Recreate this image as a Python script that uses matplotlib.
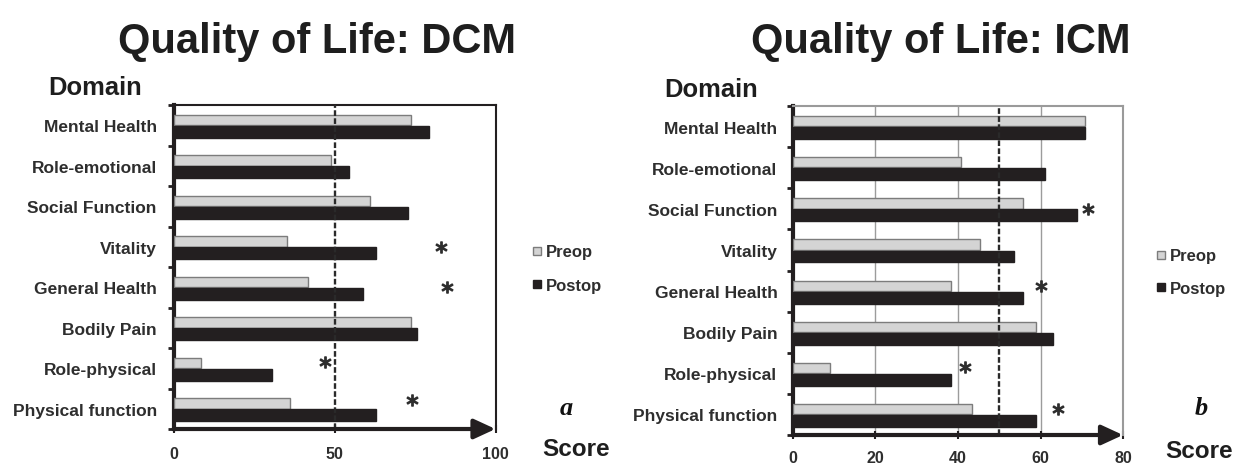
import numpy as np
import matplotlib
matplotlib.use("Agg")
import matplotlib.pyplot as plt
from matplotlib.patches import Rectangle
from matplotlib.ticker import FixedLocator

# SF-36 domains, top to bottom
domains = ["Mental Health", "Role-emotional", "Social Function", "Vitality",
           "General Health", "Bodily Pain", "Role-physical", "Physical function"]

# Mean domain scores, DCM group
dcm_preop = [73.7, 48.8, 61.0, 35.3, 41.8, 73.7, 8.4, 36.3]
dcm_postop = [79.2, 54.6, 72.8, 62.8, 59.0, 75.6, 30.7, 62.8]

# Mean domain scores, ICM group
icm_preop = [70.7, 40.8, 55.7, 45.3, 38.3, 58.8, 9.0, 43.5]
icm_postop = [70.7, 61.0, 68.8, 53.6, 55.7, 63.1, 38.3, 59.0]

# Significance markers: domain -> score position of the asterisk
dcm_stars = {"Vitality": 83, "General Health": 85,
             "Role-physical": 47, "Physical function": 74}
icm_stars = {"Social Function": 71.4, "General Health": 60,
             "Role-physical": 41.7, "Physical function": 64.3}

dcm_ticks = [0, 50, 100]
icm_ticks = [0, 20, 40, 60, 80]
series_labels = ["Preop", "Postop"]

W, H = 1237, 464
plt.rcParams["font.family"] = ["Liberation Sans", "DejaVu Sans"]
fig = plt.figure(figsize=(W / 100, H / 100), dpi=100)

INK = "#231f20"
TXT = "#2e2e2e"
PRE_FACE = "#d4d4d4"
PRE_EDGE = "#7c7c7c"


def fx(x):
    return x / W


def fy(y):
    return 1 - y / H


def panel(rect, pre, post, stars, star_dy, ticks, frame_color, grid,
          ylab_pad, xlab_pad):
    ax = fig.add_axes(rect)
    y = np.arange(len(domains))
    ax.barh(y - 0.13, pre, height=0.25, color=PRE_FACE, edgecolor=PRE_EDGE,
            linewidth=1.0, zorder=3)
    ax.barh(y + 0.16, post, height=0.29, color=INK, edgecolor=INK,
            linewidth=1.0, zorder=3)
    ax.set_xlim(ticks[0], ticks[-1])
    ax.set_ylim(len(domains) - 0.5, -0.5)

    for g in grid:
        ax.axvline(g, color="#9c9c9c", lw=1.0, zorder=1)
    ax.axvline(50, color="#2a2a2a", lw=1.7, dashes=(2.4, 1.0), zorder=4)

    # frame
    ax.spines["left"].set_linewidth(3)
    ax.spines["left"].set_color(INK)
    ax.spines["bottom"].set_visible(False)
    for side in ("top", "right"):
        ax.spines[side].set_linewidth(1.5)
        ax.spines[side].set_color(frame_color)

    # x axis drawn as an arrow
    ax.annotate("", xy=(1.0, 0.0), xytext=(0.0, 0.0),
                xycoords="axes fraction", textcoords="axes fraction",
                arrowprops=dict(arrowstyle="-|>,head_length=0.65,head_width=0.3",
                                mutation_scale=20, lw=3, color=INK,
                                shrinkA=0, shrinkB=0),
                annotation_clip=False, zorder=6)

    ax.set_yticks(y)
    ax.set_yticklabels(domains, fontsize=12.5, fontweight="bold", color=TXT)
    ax.tick_params(axis="y", which="major", length=0, pad=ylab_pad)
    ax.yaxis.set_minor_locator(FixedLocator(np.arange(-0.5, len(domains))))
    ax.tick_params(axis="y", which="minor", length=4, width=2, color=INK,
                   direction="out")

    ax.set_xticks(ticks)
    ax.set_xticklabels([str(t) for t in ticks], fontsize=11.5,
                       fontweight="bold", color=TXT)
    ax.tick_params(axis="x", direction="inout", length=6, width=1.5,
                   color=INK, pad=xlab_pad)

    for (name, xv), dy in zip(stars.items(), star_dy):
        i = domains.index(name)
        ax.plot(xv, i + dy, marker="$*$", ms=8, color=TXT,
                clip_on=False, zorder=5)
    return ax


panel([fx(173.5), fy(430), 322 / W, 324 / H], dcm_preop, dcm_postop,
      dcm_stars, [0.0, 0.0, -0.15, -0.22], dcm_ticks, INK, [], 12, 9)
panel([fx(793), fy(436), 330 / W, 329 / H], icm_preop, icm_postop,
      icm_stars, [0.0, -0.13, -0.15, -0.14], icm_ticks, "#9a9a9a",
      [20, 40, 60], 11.2, 7.5)

# titles and axis captions
fig.text(fx(317), fy(53), "Quality of Life: DCM", fontsize=30,
         fontweight="bold", color="#1e1e1e", ha="center", va="baseline")
fig.text(fx(941), fy(53), "Quality of Life: ICM", fontsize=30,
         fontweight="bold", color="#1e1e1e", ha="center", va="baseline")
fig.text(fx(48), fy(95), "Domain", fontsize=18.4, fontweight="bold",
         color="#1e1e1e", ha="left", va="baseline")
fig.text(fx(664), fy(97), "Domain", fontsize=18.4, fontweight="bold",
         color="#1e1e1e", ha="left", va="baseline")
fig.text(fx(576), fy(456), "Score", fontsize=17.5, fontweight="bold",
         color="#1e1e1e", ha="center", va="baseline")
fig.text(fx(1199), fy(458), "Score", fontsize=17.5, fontweight="bold",
         color="#1e1e1e", ha="center", va="baseline")
fig.text(fx(566.5), fy(415), "a", fontsize=19, fontweight="bold",
         fontstyle="italic", family="Liberation Serif", color="#111111",
         ha="center", va="baseline")
fig.text(fx(1201.5), fy(415), "b", fontsize=19, fontweight="bold",
         fontstyle="italic", family="Liberation Serif", color="#111111",
         ha="center", va="baseline")

# legends
for x_sq, ys in ((532.7, (252, 285)), (1157.3, (255.7, 288.3))):
    for (label, yc, face, edge) in zip(series_labels, ys,
                                      (PRE_FACE, INK), (PRE_EDGE, INK)):
        fig.add_artist(Rectangle((fx(x_sq), fy(yc + 4)), 8 / W, 8 / H,
                                 transform=fig.transFigure, facecolor=face,
                                 edgecolor=edge, linewidth=1.0))
        fig.text(fx(x_sq + 13), fy(yc + 5.5), label, fontsize=12,
                 fontweight="bold", color=TXT, ha="left", va="baseline")

fig.savefig("out.png", dpi=100, facecolor="white")
